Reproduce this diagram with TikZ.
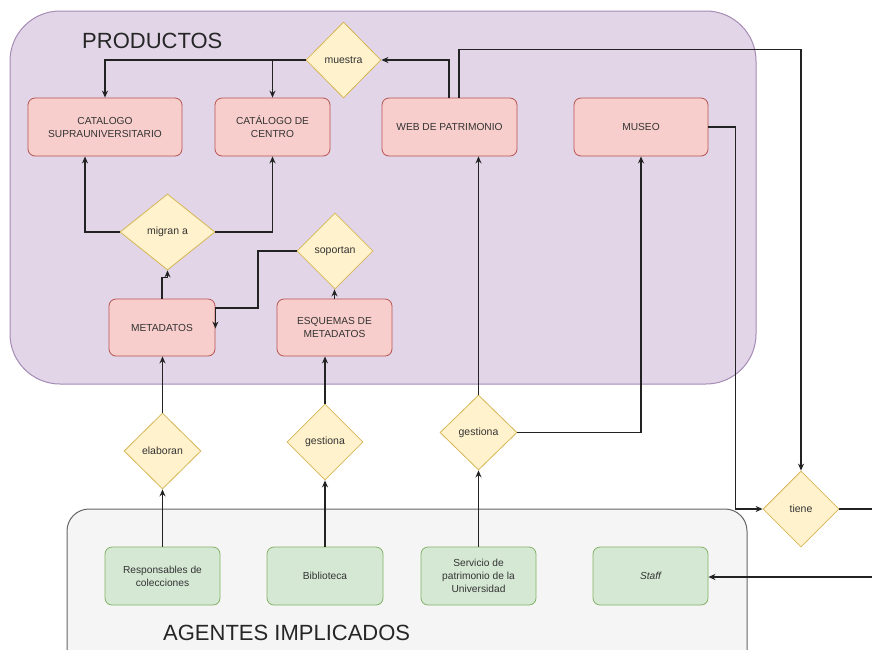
\documentclass[tikz,border=0pt]{standalone}
\usepackage{fontspec}
\setmainfont{Liberation Sans}
\usetikzlibrary{arrows.meta,shapes.geometric}
\definecolor{purfill}{HTML}{E1D5E7}
\definecolor{purdraw}{HTML}{A58BB5}
\definecolor{grayfill}{HTML}{F5F5F5}
\definecolor{graydraw}{HTML}{666666}
\definecolor{redfill}{HTML}{F8CECC}
\definecolor{reddraw}{HTML}{B85450}
\definecolor{yelfill}{HTML}{FFF2CC}
\definecolor{yeldraw}{HTML}{D6B656}
\definecolor{grnfill}{HTML}{D5E8D4}
\definecolor{grndraw}{HTML}{82B366}
\definecolor{txt}{HTML}{333333}
\definecolor{ln}{HTML}{222222}
\tikzset{
  prodbox/.style={draw=reddraw, fill=redfill, rounded corners=7pt, line width=0.8pt,
    inner sep=0pt, text=txt, align=center, font=\fontsize{10.2}{13}\selectfont},
  agbox/.style={draw=grndraw, fill=grnfill, rounded corners=7pt, line width=0.8pt,
    minimum width=115pt, minimum height=58pt,
    inner sep=0pt, text=txt, align=center, font=\fontsize{10.2}{13}\selectfont},
  rel/.style={diamond, draw=yeldraw, fill=yelfill, line width=0.8pt, inner sep=0pt,
    text=txt, font=\fontsize{10.5}{13}\selectfont, minimum width=76pt, minimum height=76pt},
  conn/.style={draw=ln, line width=1.15pt},
  arr/.style={conn, -{Stealth[length=7pt,width=6pt]}},
  title/.style={font=\fontsize{22}{26}\selectfont, text=black!85, inner sep=0pt, anchor=west}
}
\begin{document}
\begin{tikzpicture}[x=1pt,y=-1pt]
\useasboundingbox (0,0) rectangle (872,649);
\clip (0,0) rectangle (872,649);
% containers
\draw[draw=purdraw, fill=purfill, line width=1pt, rounded corners=50pt] (10,11) rectangle (756,384);
\draw[draw=graydraw, fill=grayfill, line width=1pt, rounded corners=22pt] (67,509) rectangle (747,680);
\node[title] (prodtitle) at (82,41) {PRODUCTOS};
\node[title] (agtitle) at (163,633) {AGENTES IMPLICADOS};
% product nodes
\node[prodbox, minimum width=154pt, minimum height=58pt] (cs) at (105,127) {CATALOGO\\SUPRAUNIVERSITARIO};
\node[prodbox, minimum width=115pt, minimum height=58pt] (cc) at (272.5,127) {CATÁLOGO DE\\CENTRO};
\node[prodbox, minimum width=135pt, minimum height=58pt] (web) at (449.5,127) {WEB DE PATRIMONIO};
\node[prodbox, minimum width=134pt, minimum height=58pt] (museo) at (641,127) {MUSEO};
\node[prodbox, minimum width=106pt, minimum height=57pt] (meta) at (162,327.5) {METADATOS};
\node[prodbox, minimum width=115pt, minimum height=57pt] (esq) at (334.5,327.5) {ESQUEMAS DE\\METADATOS};
% relations
\node[rel, minimum width=75pt] (muestra) at (343.5,60) {muestra};
\node[rel, minimum width=95pt] (migran) at (167.5,232) {migran a};
\node[rel] (soportan) at (335,251) {soportan};
\node[rel, minimum width=77pt] (elaboran) at (162.5,451) {elaboran};
\node[rel] (gest1) at (325,442) {gestiona};
\node[rel, minimum width=77pt, minimum height=75pt] (gest2) at (478.5,432.5) {gestiona};
\node[rel] (tiene) at (801,509) {tiene};
% agents
\node[agbox] (resp) at (162.5,576) {Responsables de\\colecciones};
\node[agbox, minimum width=116pt] (bib) at (325,576) {Biblioteca};
\node[agbox] (serv) at (478.5,576) {Servicio de\\patrimonio de la\\Universidad};
\node[agbox] (staff) at (650.5,576) {\itshape Staff};
% off-page ends
\coordinate (offR) at (872,509);
\coordinate (offS) at (872,577);
% connectors
\draw[arr] (muestra.west) -| (cs.north);
\draw[arr] (muestra.west -| cc.north) -- (cc.north);
\draw[arr] ([xshift=-0.5pt]web.north) |- (muestra.east);
\draw[arr] ([xshift=9.5pt]web.north) -- ++(0,-48) -| (tiene.north);
\draw[arr] (museo.east) -- ++(27,0) |- (tiene.west);
\draw[conn] (tiene.east) -- (offR);
\draw[arr] (offS) -- (offS -| staff.east);
\draw[arr] (migran.west) -| ([xshift=-20pt]cs.south);
\draw[arr] (migran.east) -| (cc.south);
\draw[arr] (meta.north) -- ++(0,-21) -| (migran.south);
\draw[arr] (esq.north) -- (esq.north |- soportan.south);
\draw[arr] (soportan.west) -| (258,308) -| ([yshift=-1pt]meta.east);
\draw[arr] (elaboran.north) -- (elaboran.north |- meta.south);
\draw[arr] (resp.north) -- (elaboran.south);
\draw[arr] (gest1.north) -- (gest1.north |- esq.south);
\draw[arr] (bib.north) -- (gest1.south);
\draw[arr] (gest2.north) -- (gest2.north |- web.south);
\draw[arr] (gest2.east) -| (museo.south);
\draw[arr] (serv.north) -- (gest2.south);
\end{tikzpicture}
\end{document}
